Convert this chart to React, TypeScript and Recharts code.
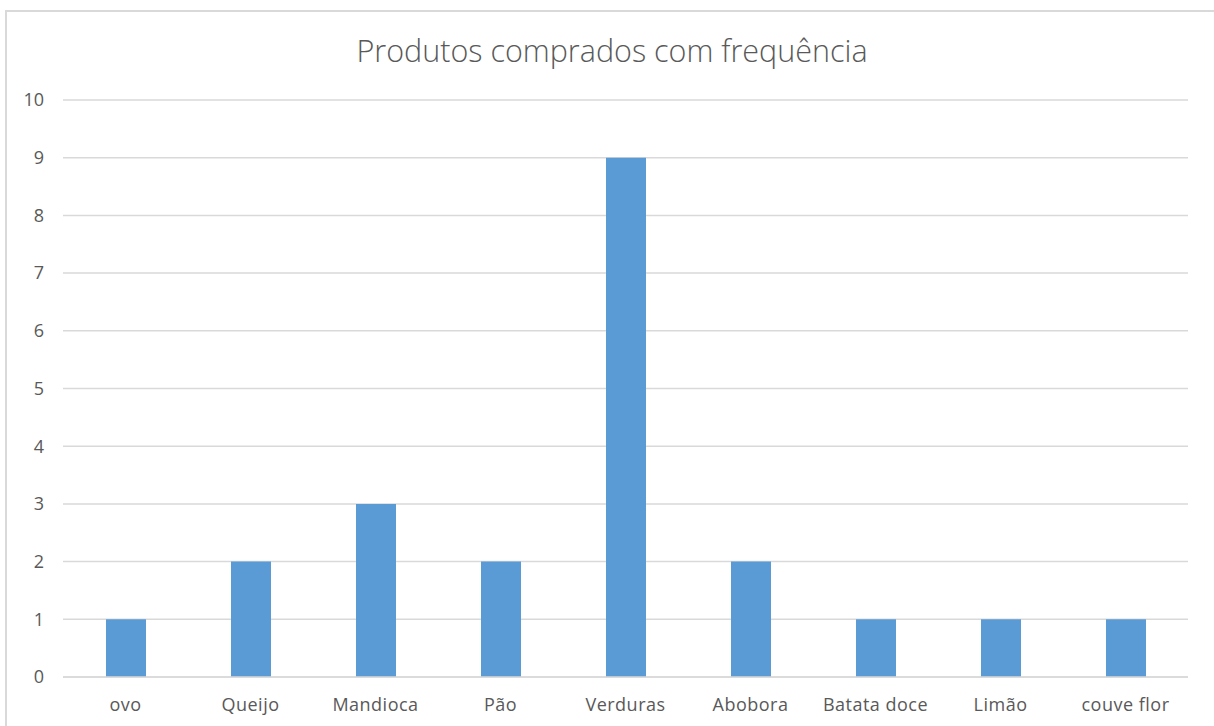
import React from 'react';
import { BarChart, Bar, XAxis, YAxis, CartesianGrid } from 'recharts';

// produtos e quantas vezes foram comprados
const produtos = ['ovo', 'Queijo', 'Mandioca', 'Pão', 'Verduras', 'Abobora', 'Batata doce', 'Limão', 'couve flor'];
const frequencia = [1, 2, 3, 2, 9, 2, 1, 1, 1];
const yTicks = [0, 1, 2, 3, 4, 5, 6, 7, 8, 9, 10];

const data = produtos.map((nome, i) => ({ nome, valor: frequencia[i] }));

const cinza = '#595959';
const fonte = '"Open Sans", "Noto Sans", sans-serif';

const App: React.FC = () => {
  return (
    <div
      style={{
        position: 'absolute',
        left: 5,
        top: 10,
        width: 1230,
        height: 740,
        border: '2px solid #d9d9d9',
        background: '#fff',
        fontFamily: fonte,
      }}
    >
      <div
        style={{
          position: 'absolute',
          top: 17,
          width: 1210,
          textAlign: 'center',
          fontSize: 30.5,
          color: cinza,
          fontWeight: 300,
        }}
      >
        Produtos comprados com frequência
      </div>
      <BarChart
        width={1210}
        height={716}
        data={data}
        margin={{ top: 88, right: 29, left: 0, bottom: 0 }}
      >
        <CartesianGrid vertical={false} stroke="#d9d9d9" strokeWidth={1.5} />
        <XAxis
          dataKey="nome"
          height={51}
          tickLine={false}
          tickMargin={15}
          axisLine={{ stroke: '#d9d9d9', strokeWidth: 1.5 }}
          tick={{ fill: cinza, fontSize: 18, fontFamily: fonte, letterSpacing: 0.5 }}
          interval={0}
        />
        <YAxis
          width={56}
          domain={[0, 10]}
          ticks={yTicks}
          axisLine={false}
          tickLine={false}
          tickMargin={13}
          tick={{ fill: cinza, fontSize: 18, fontFamily: fonte }}
        />
        <Bar dataKey="valor" fill="#5b9bd5" barSize={40} isAnimationActive={false} />
      </BarChart>
    </div>
  );
};

export default App;
